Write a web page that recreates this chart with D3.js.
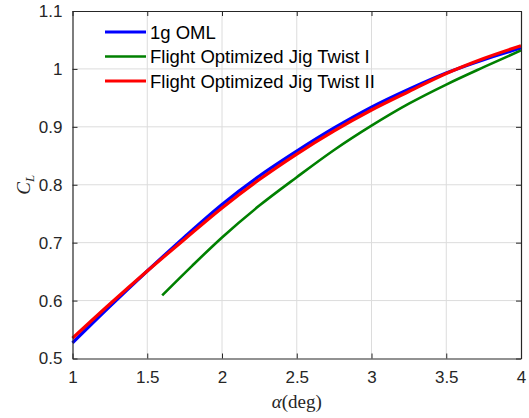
<!DOCTYPE html>
<html>
<head>
<meta charset="utf-8">
<script src="https://cdn.jsdelivr.net/npm/d3@7"></script>
<style>
  html, body { margin: 0; padding: 0; background: #fff; }
  svg { display: block; }
</style>
</head>
<body>
<svg id="chart" width="529" height="418"></svg>
<script>
// Lift coefficient vs. angle of attack for three wing shapes
const alpha1g = [1, 1.25, 1.5, 1.75, 2, 2.25, 2.5, 2.75, 3, 3.25, 3.5, 3.75, 4];
const clOML = [0.527, 0.590, 0.651, 0.710, 0.766, 0.815, 0.858, 0.898, 0.934, 0.965, 0.993, 1.016, 1.036];

const alphaJig2 = [1, 1.25, 1.5, 1.75, 2, 2.25, 2.5, 2.75, 3, 3.25, 3.5, 3.75, 4];
const clJig2 = [0.535, 0.594, 0.651, 0.706, 0.760, 0.809, 0.853, 0.893, 0.929, 0.961, 0.992, 1.018, 1.040];

const alphaJig1 = [1.6, 1.8, 2, 2.25, 2.5, 2.75, 3, 3.25, 3.5, 3.75, 4];
const clJig1 = [0.609, 0.660, 0.709, 0.764, 0.813, 0.860, 0.902, 0.940, 0.973, 1.003, 1.032];

const xTicks = [1, 1.5, 2, 2.5, 3, 3.5, 4];
const xTickLabels = ["1", "1.5", "2", "2.5", "3", "3.5", "4"];
const yTicks = [0.5, 0.6, 0.7, 0.8, 0.9, 1.0, 1.1];
const yTickLabels = ["0.5", "0.6", "0.7", "0.8", "0.9", "1", "1.1"];

const seriesNames = ["1g OML", "Flight Optimized Jig Twist I", "Flight Optimized Jig Twist II"];
const seriesColors = ["#0000ff", "#008000", "#ff0000"];

const series = [
  { name: seriesNames[0], color: seriesColors[0], width: 3.2, pts: alpha1g.map((a, i) => [a, clOML[i]]) },
  { name: seriesNames[1], color: seriesColors[1], width: 2.6, pts: alphaJig1.map((a, i) => [a, clJig1[i]]) },
  { name: seriesNames[2], color: seriesColors[2], width: 3.2, pts: alphaJig2.map((a, i) => [a, clJig2[i]]) }
];

const svg = d3.select("#chart");
const m = { left: 72.5, right: 8, top: 11, bottom: 59.5 };
const W = 529, H = 418;
const pw = W - m.left - m.right, ph = H - m.top - m.bottom;

const x = d3.scaleLinear().domain([1, 4]).range([0, pw]);
const y = d3.scaleLinear().domain([0.5, 1.1]).range([ph, 0]);

const g = svg.append("g").attr("transform", `translate(${m.left},${m.top})`);
const axisColor = "#262626";
const tickFont = "'Liberation Sans', Arial, Helvetica, sans-serif";

// grid
g.append("g").selectAll("line").data(xTicks.slice(1, -1)).join("line")
  .attr("x1", d => x(d)).attr("x2", d => x(d)).attr("y1", 0).attr("y2", ph)
  .attr("stroke", "#dcdcdc").attr("stroke-width", 1);
g.append("g").selectAll("line").data(yTicks.slice(1, -1)).join("line")
  .attr("y1", d => y(d)).attr("y2", d => y(d)).attr("x1", 0).attr("x2", pw)
  .attr("stroke", "#dcdcdc").attr("stroke-width", 1);

// curves
const line = d3.line().x(d => x(d[0])).y(d => y(d[1])).curve(d3.curveMonotoneX);
g.append("g").selectAll("path").data(series).join("path")
  .attr("d", d => line(d.pts))
  .attr("fill", "none")
  .attr("stroke", d => d.color)
  .attr("stroke-width", d => d.width)
  .attr("stroke-linejoin", "round");

// axes (ticks inward, boxed)
const tl = 5;
const xAxisB = d3.axisBottom(x).tickValues(xTicks).tickFormat((d, i) => xTickLabels[i]).tickSizeInner(-tl).tickSizeOuter(0).tickPadding(12);
const xAxisT = d3.axisTop(x).tickValues(xTicks).tickFormat("").tickSizeInner(-tl).tickSizeOuter(0);
const yAxisL = d3.axisLeft(y).tickValues(yTicks).tickFormat((d, i) => yTickLabels[i]).tickSizeInner(-tl).tickSizeOuter(0).tickPadding(10);
const yAxisR = d3.axisRight(y).tickValues(yTicks).tickFormat("").tickSizeInner(-tl).tickSizeOuter(0);

function styleAxis(sel) {
  sel.select(".domain").attr("stroke", axisColor).attr("stroke-width", 1.2);
  sel.selectAll(".tick line").attr("stroke", axisColor).attr("stroke-width", 1);
  sel.selectAll(".tick text").attr("fill", axisColor).style("font-family", tickFont).style("font-size", "17px");
}
g.append("g").attr("transform", `translate(0,${ph})`).call(xAxisB).call(styleAxis);
g.append("g").call(xAxisT).call(styleAxis);
g.append("g").call(yAxisL).call(styleAxis);
g.append("g").attr("transform", `translate(${pw},0)`).call(yAxisR).call(styleAxis);

// axis labels
const serif = "'Liberation Serif', 'DejaVu Serif', serif";
const xl = svg.append("text")
  .attr("x", m.left + pw / 2).attr("y", 408)
  .attr("text-anchor", "middle")
  .attr("fill", axisColor)
  .style("font-family", serif).style("font-size", "19px");
xl.append("tspan").attr("font-style", "italic").text("α");
xl.append("tspan").text("(deg)");

const yl = svg.append("text")
  .attr("transform", `translate(30,${m.top + y(0.8)}) rotate(-90)`)
  .attr("text-anchor", "middle")
  .attr("fill", axisColor)
  .style("font-family", serif).style("font-size", "19px");
yl.append("tspan").attr("font-style", "italic").text("C");
yl.append("tspan").attr("font-style", "italic").attr("font-size", "13px").attr("dy", 4).text("L");

// legend
const leg = svg.append("g").attr("transform", "translate(105,32)");
const legRows = leg.selectAll("g").data(series).join("g")
  .attr("transform", (d, i) => `translate(0,${i * 24.5})`);
legRows.append("line").attr("x1", 0).attr("x2", 41).attr("y1", 0).attr("y2", 0)
  .attr("stroke", d => d.color).attr("stroke-width", d => d.width);
legRows.append("text").attr("x", 45).attr("y", 6.5)
  .attr("fill", "#000")
  .style("font-family", tickFont).style("font-size", "18.5px")
  .text(d => d.name);
</script>
</body>
</html>
